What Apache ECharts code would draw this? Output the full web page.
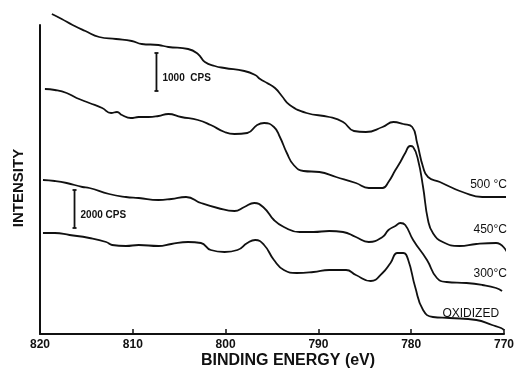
<!DOCTYPE html>
<html><head><meta charset="utf-8">
<script src="https://cdn.jsdelivr.net/npm/echarts@6/dist/echarts.min.js"></script>
<style>html,body{margin:0;padding:0;background:#fff}#c{width:517px;height:370px}</style>
</head><body><div id="c"></div>
<script>
// Binding energy (eV) and intensity (arbitrary, offset per spectrum)
const seriesNames = ['500 °C', '450°C', '300°C', 'OXIDIZED'];
const xTicks = [820, 810, 800, 790, 780, 770];

const e500 = [818.72,817.66,816.49,815.11,813.62,811.81,810.11,809.04,807.23,806.17,804.04,802.98,802.23,801.17,800.11,797.98,796.81,796.28,795.53,794.68,793.94,793.09,791.28,788.83,787.34,786.17,784.89,783.09,781.91,780.85,779.89,779.36,778.72,778.19,776.91,775.53,774.47,772.34,769.68];
const i500 = [320,315,309,303,297,295,293,290,289,287,285,280,272,268,266,263,259,255,251,246,238,229,221,217,212,203,202,207,212,210,207,191,167,157,152,146,142,137,137];

const e450 = [819.47,818.40,817.13,816.06,814.68,813.30,812.34,811.70,811.17,810.21,809.36,808.30,807.23,806.17,804.79,802.98,801.60,800.11,799.04,797.66,796.60,795.85,794.79,794.15,793.40,792.66,791.60,789.89,788.09,785.96,784.57,783.09,782.45,781.70,781.17,780.64,780.11,779.79,779.26,778.72,778.19,777.66,776.60,774.79,772.98,770.85,769.68];
const i450 = [245,244,241,236,231,226,221,222,219,216,217,217,218,220,217,214,209,202,200,201,209,211,207,197,181,169,163,162,157,151,146,146,152,164,172,181,188,187,174,147,114,101,92,88,90,91,82];

const e300 = [819.68,818.40,817.13,815.43,814.68,812.55,810.74,809.36,807.23,805.85,804.26,802.66,800.85,799.04,797.98,796.91,795.85,794.79,793.72,792.02,790.53,788.83,787.34,785.96,784.57,783.09,782.45,781.70,781.17,780.64,779.79,778.30,777.23,776.17,774.04,772.34,770.85,770.21];
const i300 = [154,153,151,147,146,140,137,136,134,135,137,131,126,123,127,131,126,114,107,102,102,103,102,97,92,97,104,108,111,109,94,74,56,52,51,49,46,43];

const eOx = [819.68,818.40,816.81,814.68,812.87,812.23,810.74,809.36,807.23,805.85,804.04,802.66,801.60,800.11,798.72,797.66,796.81,795.85,794.79,793.72,792.34,790.53,788.83,787.02,785.96,784.36,783.09,782.23,781.49,780.85,780.32,779.57,778.72,777.66,775.85,772.98,771.28,770.32,770.00];
const iOx = [101,101,99,96,92,89,88,89,88,90,92,91,84,82,84,91,94,89,74,64,61,62,64,64,59,53,61,71,81,81,74,47,24,17,16,14,9,6,4];

// Scale bars (intensity span shown as I-beam)
const scaleBarLabels = ['1000  CPS', '2000 CPS'];
const scaleBarEV = [807.45, 816.28];
const scaleBarLow = [243, 106];
const scaleBarHigh = [281, 144];

// Curve label anchors (right end of text)
const labelEV = [770, 770, 770, 770.85];
const labelI = [149, 104, 60, 20];

const FONT = "'Liberation Sans', Arial, sans-serif";
const energies = [e500, e450, e300, eOx];
const intens = [i500, i450, i300, iOx];

const chart = echarts.init(document.getElementById('c'), null, {renderer: 'canvas'});

const lineSeries = seriesNames.map((name, k) => ({
  name: name,
  type: 'line',
  data: energies[k].map((e, j) => [e, intens[k][j]]),
  smooth: 0.5,
  symbol: 'none',
  clip: false,
  lineStyle: {color: '#111', width: 1.8},
  markPoint: {
    symbol: 'circle', symbolSize: 0,
    data: [{coord: [labelEV[k], labelI[k]], value: name}],
    label: {show: true, formatter: name, position: [3, 0], align: 'right', verticalAlign: 'middle',
      color: '#111', fontSize: 12, fontFamily: FONT, fontWeight: 'normal'}
  },
  z: 3
}));

const scaleSeries = {
  type: 'custom',
  clip: false,
  data: scaleBarEV.map((e, j) => [e, scaleBarLow[j], scaleBarHigh[j], j]),
  renderItem: function (params, api) {
    const lo = api.coord([api.value(0), api.value(1)]);
    const hi = api.coord([api.value(0), api.value(2)]);
    const j = api.value(3);
    const st = {stroke: '#111', lineWidth: 1.8};
    return {
      type: 'group',
      children: [
        {type: 'line', shape: {x1: lo[0], y1: lo[1], x2: hi[0], y2: hi[1]}, style: st},
        {type: 'line', shape: {x1: lo[0] - 2, y1: lo[1], x2: lo[0] + 2, y2: lo[1]}, style: st},
        {type: 'line', shape: {x1: hi[0] - 2, y1: hi[1], x2: hi[0] + 2, y2: hi[1]}, style: st},
        {type: 'text', style: {text: scaleBarLabels[j], x: lo[0] + 6, y: (lo[1] + hi[1]) / 2 + 6,
          textAlign: 'left', textVerticalAlign: 'middle', fill: '#111',
          font: 'bold 10px ' + FONT}}
      ]
    };
  },
  z: 4
};

chart.setOption({
  animation: false,
  backgroundColor: '#fff',
  grid: {left: 40, right: 7, top: 25, bottom: 36},
  xAxis: {
    type: 'value', min: 770, max: 820, interval: 10, inverse: true,
    axisLine: {show: true, lineStyle: {color: '#111', width: 2}},
    axisTick: {show: true, inside: true, length: 5, lineStyle: {color: '#111', width: 1.5}},
    axisLabel: {color: '#111', fontSize: 12, fontWeight: 'bold', fontFamily: FONT, margin: 5,
      formatter: v => xTicks.indexOf(v) >= 0 ? String(v) : ''},
    splitLine: {show: false}
  },
  yAxis: {
    type: 'value', min: 0, max: 309,
    axisLine: {show: true, lineStyle: {color: '#111', width: 2}},
    axisTick: {show: false}, axisLabel: {show: false}, splitLine: {show: false}
  },
  graphic: [
    {type: 'text', x: 19, y: 188, rotation: Math.PI / 2,
      style: {text: 'INTENSITY', fill: '#111', font: 'bold 15px ' + FONT, textAlign: 'center', textVerticalAlign: 'middle'}},
    {type: 'text', x: 288, y: 361,
      style: {text: 'BINDING ENERGY (eV)', fill: '#111', font: 'bold 16px ' + FONT, textAlign: 'center', textVerticalAlign: 'middle'}}
  ],
  series: lineSeries.concat([scaleSeries])
});
</script></body></html>
